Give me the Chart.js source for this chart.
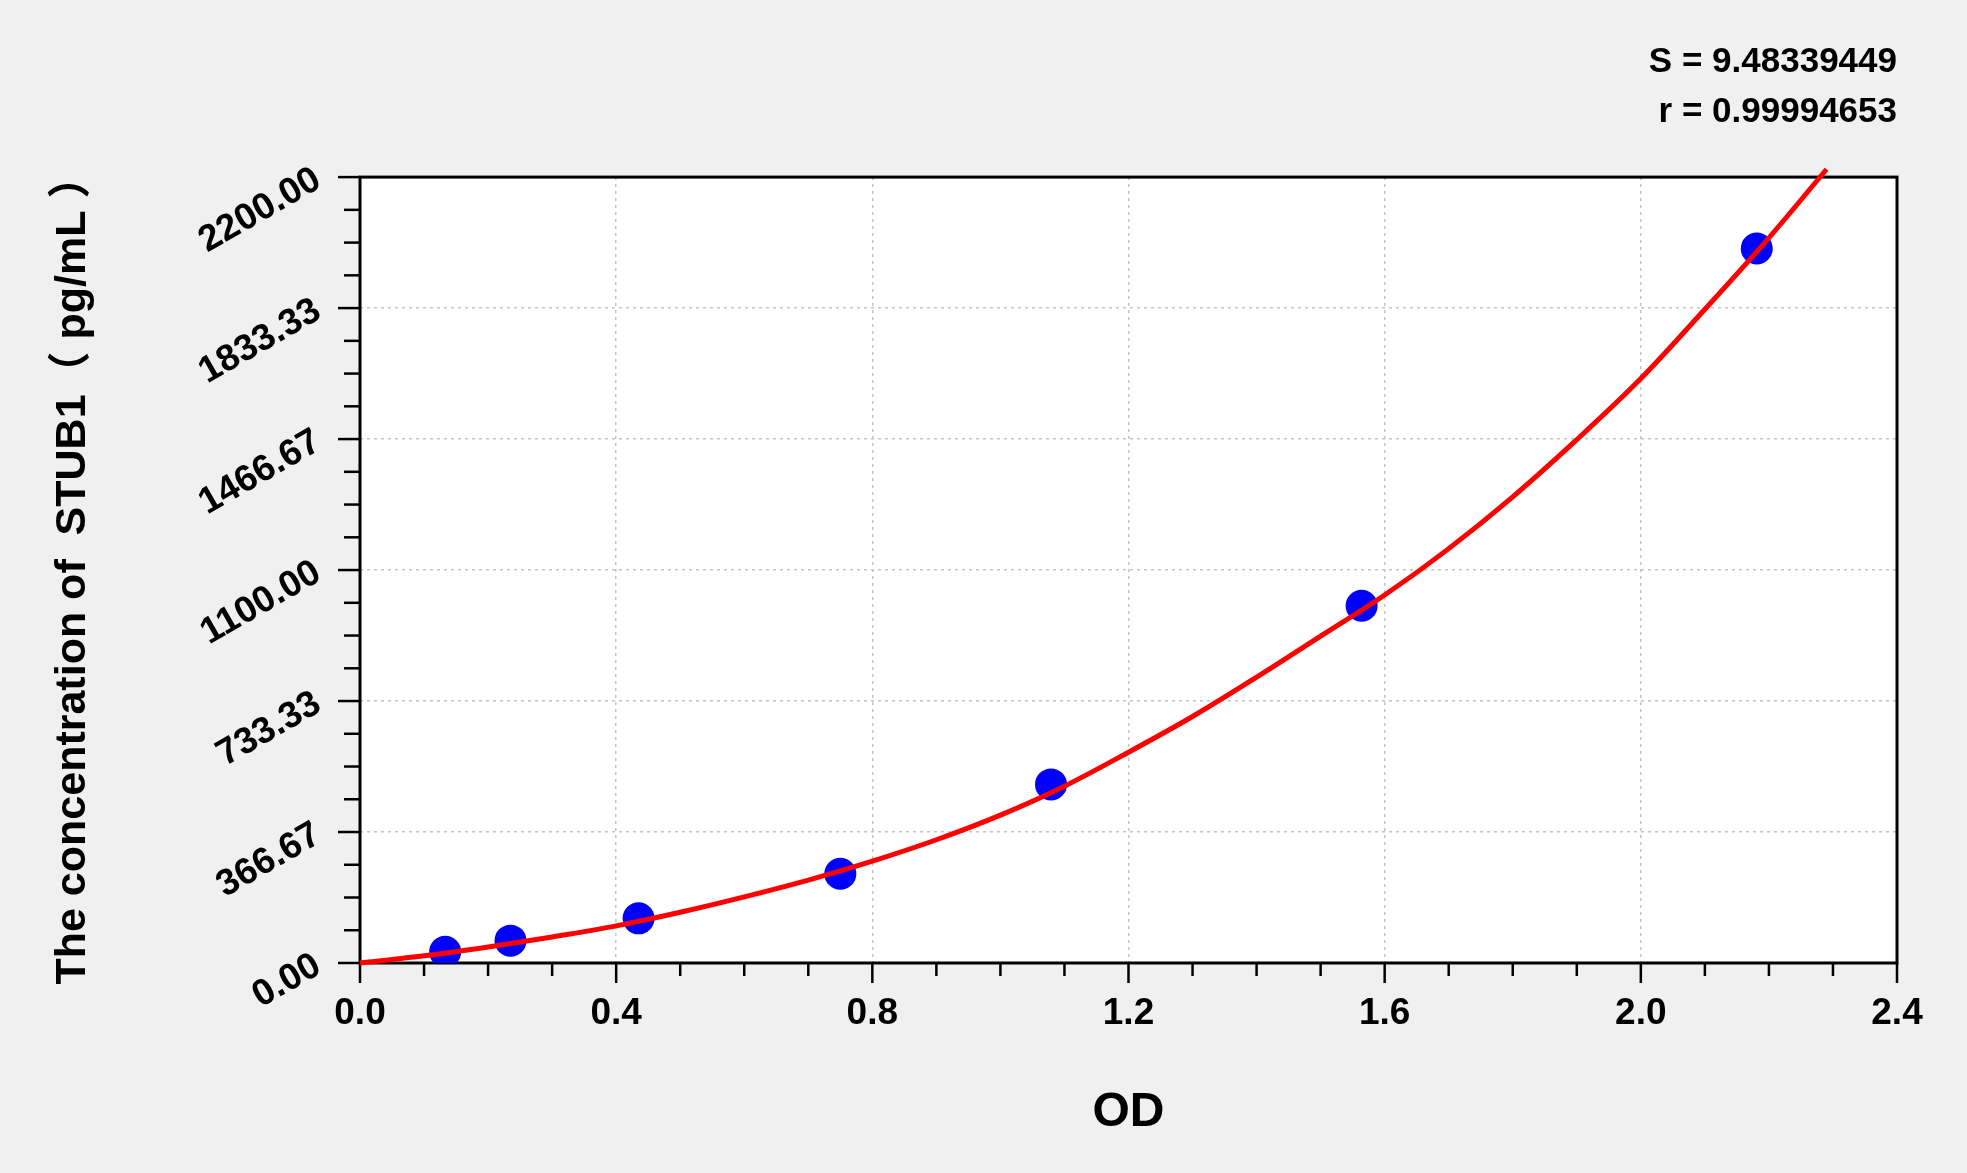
<!DOCTYPE html>
<html>
<head>
<meta charset="utf-8">
<title>STUB1 standard curve</title>
<script src="https://cdn.jsdelivr.net/npm/chart.js@4.4.1/dist/chart.umd.min.js"></script>
<style>
  html, body { margin: 0; padding: 0; background: #f0f0f0; }
  #wrap { width: 1967px; height: 1173px; }
</style>
</head>
<body>
<div id="wrap"><canvas id="stdChart"></canvas></div>
<script>
// standards: OD, concentration in pg/mL
const odValues = [0.133, 0.235, 0.435, 0.750, 1.079, 1.564, 2.181];
const concValues = [31.25, 62.5, 125, 250, 500, 1000, 2000];

// fitted curve
const curveOd = [0, 0.1, 0.2, 0.3, 0.4, 0.5, 0.6, 0.7, 0.8, 0.9, 1.0, 1.1, 1.2,
  1.3, 1.4, 1.5, 1.6, 1.7, 1.8, 1.9, 2.0, 2.1, 2.2, 2.29];
const curveConc = [0, 20, 45, 73, 104, 142, 185, 232, 285, 345, 414, 495, 590,
  690, 800, 915, 1030, 1160, 1305, 1465, 1636, 1830, 2030, 2222];

const xTickLabels = ["0.0", "0.4", "0.8", "1.2", "1.6", "2.0", "2.4"];
const yTickLabels = ["0.00", "366.67", "733.33", "1100.00", "1466.67", "1833.33", "2200.00"];
const fitStats = ["S = 9.48339449", "r = 0.99994653"];

const xMax = 2.4;
const yMax = 2200;
const minorPerMajor = 4;

Chart.defaults.font.family = "'Liberation Sans', Arial, 'Noto Sans CJK SC', sans-serif";
Chart.defaults.color = "#000";

// white plot area, black frame and the long/short tick marks
const plotFrame = {
  id: "plotFrame",
  beforeDraw(chart) {
    const { ctx, chartArea: a } = chart;
    ctx.save();
    ctx.fillStyle = "#ffffff";
    ctx.fillRect(a.left, a.top, a.right - a.left, a.bottom - a.top);
    ctx.restore();
  },
  beforeDatasetsDraw(chart) {
    const { ctx, chartArea: a, scales } = chart;
    ctx.save();
    ctx.strokeStyle = "#000";
    ctx.lineWidth = 3;
    ctx.strokeRect(a.left, a.top, a.right - a.left, a.bottom - a.top);
    ctx.lineWidth = 2.5;
    scales.x.ticks.forEach((t, i) => {
      const px = scales.x.getPixelForTick(i);
      const len = i % minorPerMajor === 0 ? 20 : 13;
      ctx.beginPath();
      ctx.moveTo(px, a.bottom);
      ctx.lineTo(px, a.bottom + len);
      ctx.stroke();
    });
    scales.y.ticks.forEach((t, i) => {
      const py = scales.y.getPixelForTick(i);
      const len = i % minorPerMajor === 0 ? 22 : 16;
      ctx.beginPath();
      ctx.moveTo(a.left, py);
      ctx.lineTo(a.left - len, py);
      ctx.stroke();
    });
    ctx.restore();
  }
};

const gridColor = (c) => (c.index % minorPerMajor === 0 ? "#c4c4c4" : "rgba(0,0,0,0)");

const ctx = document.getElementById("stdChart").getContext("2d");
const stdChart = new Chart(ctx, {
  type: "scatter",
  data: {
    datasets: [
      {
        type: "line",
        label: "Fit",
        data: curveOd.map((x, i) => ({ x: x, y: curveConc[i] })),
        borderColor: "#ff0000",
        borderWidth: 5,
        pointRadius: 0,
        cubicInterpolationMode: "monotone",
        fill: false,
        clip: false,
        order: 0
      },
      {
        type: "scatter",
        label: "Standards",
        data: odValues.map((x, i) => ({ x: x, y: concValues[i] })),
        backgroundColor: "#0000ff",
        borderWidth: 0,
        pointRadius: 16,
        order: 1
      }
    ]
  },
  options: {
    responsive: true,
    maintainAspectRatio: false,
    animation: false,
    layout: { padding: { left: 0, right: 70, top: 0, bottom: 0 } },
    plugins: {
      legend: { display: false },
      tooltip: { enabled: false },
      title: {
        display: true,
        text: fitStats,
        align: "end",
        color: "#000",
        font: { size: 35, weight: "bold", lineHeight: 1.43 },
        padding: { top: 37, bottom: 40 }
      }
    },
    scales: {
      x: {
        type: "linear",
        min: 0,
        max: xMax,
        afterBuildTicks: (axis) => {
          axis.ticks = Array.from({ length: xTickLabels.length * minorPerMajor - 3 },
            (_, i) => ({ value: (i * xMax) / ((xTickLabels.length - 1) * minorPerMajor) }));
        },
        afterFit: (s) => { s.height = 210; },
        grid: { color: gridColor, lineWidth: 1.5, tickLength: 20, tickColor: "rgba(0,0,0,0)" },
        border: { display: false, dash: [3, 4] },
        ticks: {
          autoSkip: false,
          maxRotation: 0,
          padding: 9,
          font: { size: 37, weight: "bold" },
          callback: (v, i) => (i % minorPerMajor === 0 ? xTickLabels[i / minorPerMajor] : "")
        },
        title: {
          display: true,
          text: "OD",
          font: { size: 48, weight: "bold" },
          padding: { top: 0, bottom: 31 }
        }
      },
      y: {
        type: "linear",
        min: 0,
        max: yMax,
        afterBuildTicks: (axis) => {
          axis.ticks = Array.from({ length: yTickLabels.length * minorPerMajor - 3 },
            (_, i) => ({ value: (i * yMax) / ((yTickLabels.length - 1) * minorPerMajor) }));
        },
        afterFit: (s) => { s.width = 360; },
        grid: { color: gridColor, lineWidth: 1.5, tickLength: 22, tickColor: "rgba(0,0,0,0)" },
        border: { display: false, dash: [3, 4] },
        ticks: {
          autoSkip: false,
          minRotation: 30,
          maxRotation: 30,
          padding: 20,
          font: { size: 37, weight: "bold" },
          callback: (v, i) => (i % minorPerMajor === 0 ? yTickLabels[i / minorPerMajor] : "")
        },
        title: {
          display: true,
          text: "The concentration of  STUB1（ pg/mL ）",
          font: { size: 43, weight: "bold" },
          padding: { top: 47, bottom: 0 }
        }
      }
    }
  },
  plugins: [plotFrame]
});
</script>
</body>
</html>
